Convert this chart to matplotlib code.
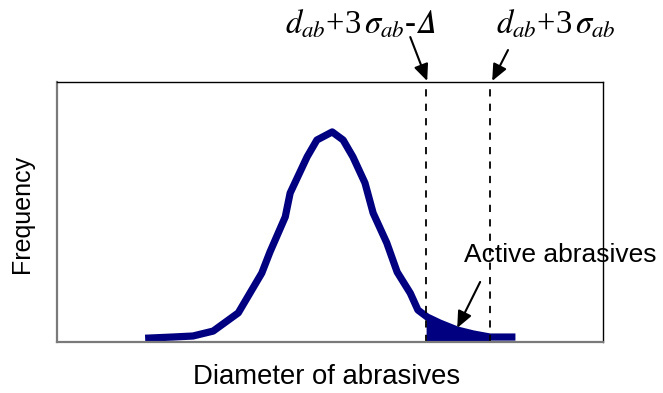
import numpy as np
import matplotlib.pyplot as plt

plt.rcParams['mathtext.fontset'] = 'stix'

# abrasive size distribution (arbitrary units)
diameter = [1.68, 2.11, 2.49, 2.86, 3.32, 3.75, 3.90, 4.18, 4.27, 4.58, 4.76, 5.04,
            5.24, 5.42, 5.64, 5.79, 6.04, 6.23, 6.47, 6.61, 6.78, 7.01, 7.33, 7.62,
            7.93, 8.33]
frequency = [0.015, 0.019, 0.023, 0.042, 0.112, 0.265, 0.346, 0.481, 0.573, 0.712,
             0.777, 0.808, 0.777, 0.712, 0.612, 0.496, 0.381, 0.269, 0.188, 0.123,
             0.096, 0.073, 0.046, 0.031, 0.019, 0.019]

# cut-off diameters
d_cut = 6.76   # d_ab + 3 sigma_ab - Delta
d_max = 7.93   # d_ab + 3 sigma_ab

navy = '#000080'

fig = plt.figure(figsize=(6.63, 3.93), dpi=100)
ax = fig.add_axes([0.086, 0.1298, 0.8235, 0.6615])

ax.plot(diameter, frequency, color=navy, lw=5.2, solid_joinstyle='round')

# shaded region of active abrasives
xs = np.array(diameter)
ys = np.array(frequency)
mask = (xs > d_cut) & (xs < d_max)
fx = np.concatenate([[d_cut], xs[mask], [d_max]])
fy = np.concatenate([[np.interp(d_cut, xs, ys)], ys[mask], [np.interp(d_max, xs, ys)]])
ax.fill_between(fx, 0, fy, color=navy, lw=0)

ax.axvline(d_cut, color='black', ls=(0, (4, 4)), lw=1.3)
ax.axvline(d_max, color='black', ls=(0, (4, 4)), lw=1.3)

ax.set_xlim(0, 10)
ax.set_ylim(0, 1)
ax.set_xticks([])
ax.set_yticks([])
for s in ['left', 'bottom']:
    ax.spines[s].set_color('#7a7a7a')
    ax.spines[s].set_linewidth(1.6)
for s in ['top', 'right']:
    ax.spines[s].set_color('black')
    ax.spines[s].set_linewidth(1.0)

serif = {'family': 'Liberation Serif', 'size': 23.5}
ax.text(5.55, 1.188, '$d_{ab}$+3$\\,\\sigma_{ab}$-$\U0001D6E5$', ha='center',
        va='baseline', fontdict=serif, clip_on=False)
ax.text(9.14, 1.188, r'$d_{ab}$+3$\,\sigma_{ab}$', ha='center',
        va='baseline', fontdict=serif, clip_on=False)

arrow = dict(arrowstyle='-|>,head_length=0.5,head_width=0.22', color='black', lw=1.5,
             mutation_scale=20, shrinkA=0, shrinkB=0)
ax.annotate('', xy=(6.78, 1.004), xytext=(6.47, 1.173), arrowprops=arrow,
            annotation_clip=False)
ax.annotate('', xy=(7.97, 1.004), xytext=(8.26, 1.123), arrowprops=arrow,
            annotation_clip=False)
ax.annotate('', xy=(7.33, 0.054), xytext=(7.75, 0.231), arrowprops=arrow)

ax.text(9.21, 0.335, 'Active abrasives', ha='center', va='center',
        family='Liberation Sans', fontsize=19, clip_on=False)

fig.text(22 / 663, 1 - 214 / 393, 'Frequency', rotation=90, ha='center', va='center',
         family='Liberation Sans', fontsize=18)
fig.text(327 / 663, 1 - 377 / 393, 'Diameter of abrasives', ha='center', va='center',
         family='Liberation Sans', fontsize=19.8)

fig.savefig('out.png', dpi=100)
